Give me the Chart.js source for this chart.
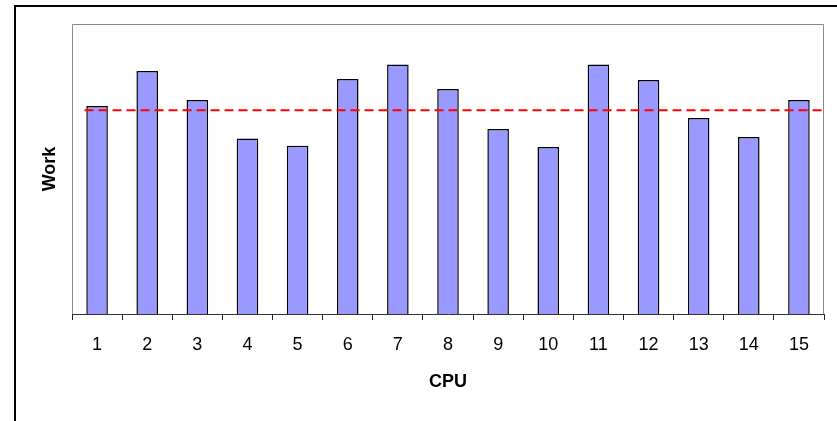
<!DOCTYPE html>
<html lang="en">
<head>
<meta charset="UTF-8">
<title>Work per CPU</title>
<script src="https://cdn.jsdelivr.net/npm/chart.js"></script>
<style>
html,body{margin:0;padding:0;background:#fff;}
.wrap{width:837px;height:421px;position:relative;}
</style>
</head>
<body>
<div class="wrap"><canvas id="workChart" width="837" height="421"></canvas></div>

<script>
Chart.defaults.animation=false;
Chart.defaults.font.family="'Liberation Sans', Arial, Helvetica, sans-serif";
Chart.defaults.color="#000";

// data
const CPUS=["1","2","3","4","5","6","7","8","9","10","11","12","13","14","15"];
const WORK=[71.7,83.8,73.8,60.5,58.0,81.0,86.0,77.6,63.8,57.6,86.0,80.7,67.6,61.0,73.8];
const AVG_WORK=70.3;
const AVG_SPAN=[0.25,15];   // start/end of the average line, in category units

/* frames: outer black one, gray plot box */
const frames={
  id:"frames",
  beforeDraw(c){
    const {ctx,chartArea:a,width,height}=c;
    ctx.save();
    ctx.strokeStyle="#000";ctx.lineWidth=2;
    ctx.beginPath();
    ctx.moveTo(15,height);ctx.lineTo(15,6);ctx.lineTo(width,6);
    ctx.stroke();
    ctx.strokeStyle="#8a8a8a";ctx.lineWidth=1;
    ctx.beginPath();
    ctx.moveTo(a.left+0.5,a.bottom);ctx.lineTo(a.left+0.5,a.top+0.5);
    ctx.lineTo(a.right-0.5,a.top+0.5);ctx.lineTo(a.right-0.5,a.bottom);
    ctx.stroke();
    ctx.restore();
  }
};

new Chart(document.getElementById("workChart"),{
  type:"bar",
  data:{
    labels:CPUS,
    datasets:[
      {
        type:"line",
        xAxisID:"x2",
        data:AVG_SPAN.map(x=>({x,y:AVG_WORK})),
        borderColor:"#ff0000",
        borderWidth:2,
        borderDash:[9,5],
        pointRadius:0,
        fill:false,
        order:0
      },
      {
        data:WORK,
        backgroundColor:"#9999ff",
        borderColor:"#000",
        borderWidth:1.5,
        barPercentage:0.43,
        categoryPercentage:1,
        grouped:false,
        order:1
      }
    ]
  },
  options:{
    responsive:false,
    layout:{padding:{top:24,right:13,bottom:0,left:0}},
    plugins:{legend:{display:false},tooltip:{enabled:false}},
    scales:{
      x:{
        afterFit:s=>{s.height=107;},
        grid:{display:true,drawOnChartArea:false,drawTicks:true,tickLength:6,color:"#222",offset:true},
        border:{color:"#333",width:1},
        ticks:{font:{size:18},padding:14,color:"#000"},
        title:{display:true,text:"CPU",font:{size:18,weight:"bold"},padding:{top:0,bottom:28},color:"#000"}
      },
      x2:{type:"linear",display:false,min:0,max:15,offset:false,grid:{offset:false}},
      y:{
        min:0,max:100,
        afterFit:s=>{s.width=72;},
        grid:{display:false},
        border:{display:false},
        ticks:{display:false},
        title:{display:true,text:"Work",font:{size:18,weight:"bold"},padding:{top:39,bottom:0},color:"#000"}
      }
    }
  },
  plugins:[frames]
});
</script>
</body>
</html>
